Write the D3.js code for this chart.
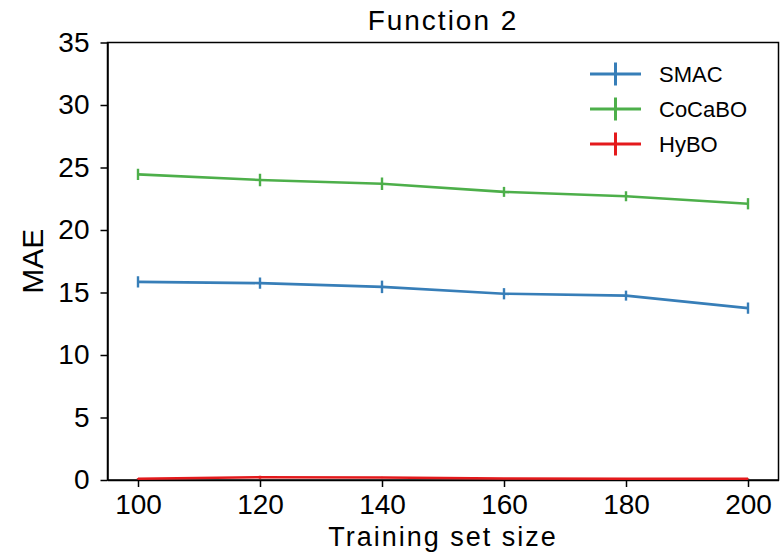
<!DOCTYPE html>
<html>
<head>
<meta charset="utf-8">
<script src="https://cdn.jsdelivr.net/npm/d3@7"></script>
<style>
  body { margin: 0; background: #fff; }
  svg { font-family: Arial, "Liberation Sans", sans-serif; }
</style>
</head>
<body>
<script>
const sizes = [100, 120, 140, 160, 180, 200];
const smac = [15.85, 15.75, 15.45, 14.9, 14.75, 13.75];
const smacErr = [0.45, 0.45, 0.5, 0.45, 0.4, 0.45];
const cocabo = [24.45, 24.0, 23.7, 23.05, 22.7, 22.1];
const cocaboErr = [0.45, 0.5, 0.5, 0.4, 0.4, 0.45];
const hybo = [0.1, 0.22, 0.2, 0.12, 0.1, 0.1];
const hyboErr = [0.05, 0.12, 0.05, 0.03, 0.03, 0.03];
const xTicks = [100, 120, 140, 160, 180, 200];
const yTicks = [0, 5, 10, 15, 20, 25, 30, 35];

const series = [
  { name: 'SMAC', color: '#377eb8', v: smac, e: smacErr },
  { name: 'CoCaBO', color: '#4daf4a', v: cocabo, e: cocaboErr },
  { name: 'HyBO', color: '#e41a1c', v: hybo, e: hyboErr },
];

const W = 784, H = 554;
const m = { l: 107.5, r: 5.5, t: 42.5, b: 74 };

const svg = d3.select('body').append('svg').attr('width', W).attr('height', H);

const x = d3.scaleLinear().domain([95, 205]).range([m.l, W - m.r]);
const y = d3.scaleLinear().domain([0, 35]).range([H - m.b, m.t]);

// frame
svg.append('rect')
  .attr('x', m.l).attr('y', m.t)
  .attr('width', W - m.r - m.l).attr('height', H - m.b - m.t)
  .attr('fill', 'none').attr('stroke', '#000').attr('stroke-width', 1.5);

// axes
const xa = svg.append('g')
  .attr('transform', 'translate(0,' + (H - m.b) + ')')
  .call(d3.axisBottom(x).tickValues(xTicks).tickSize(7).tickPadding(7).tickSizeOuter(0));
const ya = svg.append('g')
  .attr('transform', 'translate(' + m.l + ',0)')
  .call(d3.axisLeft(y).tickValues(yTicks).tickSize(7).tickPadding(11).tickSizeOuter(0));

[xa, ya].forEach(a => {
  a.select('.domain').attr('stroke-width', 1.5);
  a.selectAll('.tick line').attr('stroke-width', 1.5);
  a.selectAll('.tick text').attr('font-size', 28).attr('fill', '#000')
    .attr('font-family', 'Arial, "Liberation Sans", sans-serif');
});

// lines + error bars
const line = d3.line().x((d, i) => x(sizes[i])).y(d => y(d));
series.forEach(s => {
  const g = svg.append('g');
  g.append('path')
    .attr('d', line(s.v))
    .attr('fill', 'none')
    .attr('stroke', s.color)
    .attr('stroke-width', 2.6);
  g.selectAll('line')
    .data(s.v)
    .enter()
    .append('line')
    .attr('x1', (d, i) => x(sizes[i]))
    .attr('x2', (d, i) => x(sizes[i]))
    .attr('y1', (d, i) => y(d - s.e[i]))
    .attr('y2', (d, i) => y(d + s.e[i]))
    .attr('stroke', s.color)
    .attr('stroke-width', 2.4);
});

// legend
const lg = svg.append('g');
series.forEach((s, i) => {
  const ly = 74 + i * 35;
  lg.append('line').attr('x1', 590).attr('x2', 641).attr('y1', ly).attr('y2', ly)
    .attr('stroke', s.color).attr('stroke-width', 3);
  lg.append('line').attr('x1', 615.5).attr('x2', 615.5).attr('y1', ly - 11.5).attr('y2', ly + 11.5)
    .attr('stroke', s.color).attr('stroke-width', 3);
  lg.append('text').attr('x', 659).attr('y', ly + 8).attr('font-size', 22).text(s.name);
});

// title and labels
svg.append('text')
  .attr('x', (m.l + W - m.r) / 2).attr('y', 30)
  .attr('text-anchor', 'middle').attr('font-size', 28).attr('letter-spacing', 2)
  .text('Function 2');

svg.append('text')
  .attr('x', (m.l + W - m.r) / 2).attr('y', 546)
  .attr('text-anchor', 'middle').attr('font-size', 27).attr('letter-spacing', 2)
  .text('Training set size');

svg.append('text')
  .attr('transform', 'translate(43,' + (H - m.b + m.t) / 2 + ') rotate(-90)')
  .attr('text-anchor', 'middle').attr('font-size', 30)
  .text('MAE');
</script>
</body>
</html>
